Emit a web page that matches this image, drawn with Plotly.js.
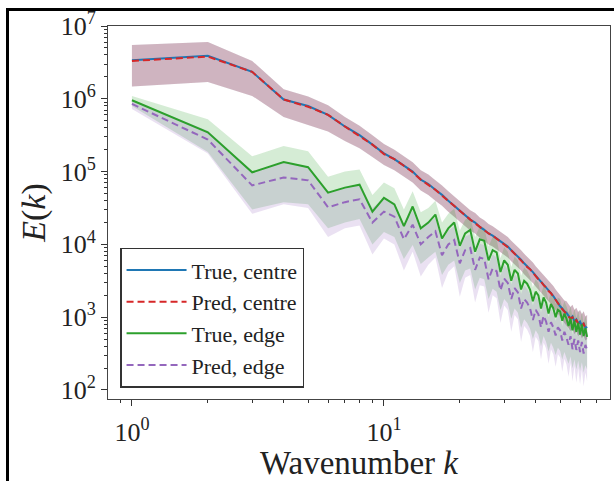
<!DOCTYPE html>
<html>
<head>
<meta charset="utf-8">
<script src="https://cdn.plot.ly/plotly-3.0.1.min.js"></script>
<style>
  html, body { margin: 0; padding: 0; background: #fff; }
  #wrap { position: relative; width: 614px; height: 481px; overflow: hidden; }
  #frame { position: absolute; left: 6px; top: 8px; width: 700px; height: 600px;
           border-left: 3px solid #000; border-top: 3px solid #000; pointer-events: none; }
</style>
</head>
<body>
<div id="wrap"><div id="chart" style="width:614px;height:481px;"></div><div id="frame"></div></div>
<script>
// Wavenumber k
const k = [1,2,3,4,5,6,7,8,9,10,11,12,13,14,15,16,17,18,19,20,21,22,23,24,25,26,27,28,29,30,31,32,
           33,34,35,36,37,38,39,40,41,42,43,44,45,46,47,48,49,50,51,52,53,54,55,56,57,58,59,60,61,62,63,64];

// All spectra stored as log10(E(k))
const trueCentreLog = [6.53,6.59,6.37,5.99,5.90,5.78,5.62,5.50,5.37,5.25,5.17,5.08,5.00,4.89,4.83,4.75,
  4.68,4.60,4.53,4.46,4.41,4.34,4.30,4.24,4.20,4.15,4.12,4.08,4.05,4.00,3.97,3.92,3.88,3.83,3.79,3.74,
  3.70,3.66,3.62,3.57,3.53,3.49,3.45,3.41,3.37,3.33,3.29,3.24,3.20,3.15,3.12,3.08,3.06,3.02,2.98,3.01,
  2.94,2.97,2.91,2.94,2.88,2.92,2.85,2.87];
const predCentreLog = [6.52,6.58,6.37,5.99,5.89,5.78,5.62,5.49,5.37,5.24,5.17,5.08,4.99,4.89,4.82,4.75,
  4.67,4.60,4.53,4.46,4.40,4.34,4.29,4.24,4.19,4.15,4.12,4.08,4.04,4.00,3.96,3.92,3.87,3.83,3.78,3.74,
  3.69,3.66,3.61,3.57,3.52,3.49,3.44,3.41,3.36,3.33,3.28,3.24,3.19,3.15,3.11,3.08,3.05,3.02,2.98,3.00,
  2.94,2.96,2.91,2.93,2.88,2.91,2.85,2.86];
const centreHiLog = [6.74,6.78,6.52,6.13,6.03,5.91,5.75,5.63,5.50,5.38,5.30,5.21,5.13,5.02,4.96,4.88,
  4.81,4.73,4.66,4.59,4.54,4.47,4.43,4.37,4.33,4.28,4.25,4.21,4.18,4.13,4.10,4.05,4.01,3.96,3.92,3.87,
  3.83,3.79,3.75,3.70,3.66,3.62,3.58,3.54,3.50,3.46,3.43,3.38,3.34,3.30,3.27,3.23,3.22,3.17,3.14,3.17,
  3.10,3.13,3.07,3.10,3.04,3.08,3.01,3.03];
const centreLoLog = [6.17,6.23,6.04,5.75,5.64,5.55,5.42,5.32,5.20,5.09,5.02,4.93,4.85,4.74,4.68,4.60,
  4.53,4.45,4.38,4.31,4.26,4.19,4.15,4.09,4.05,4.00,3.97,3.93,3.90,3.85,3.82,3.77,3.73,3.68,3.64,3.59,
  3.55,3.51,3.47,3.42,3.38,3.34,3.30,3.26,3.22,3.18,3.14,3.09,3.05,3.00,2.96,2.92,2.89,2.85,2.81,2.84,
  2.77,2.80,2.74,2.77,2.71,2.75,2.68,2.70];

const trueEdgeLog = [5.98,5.54,4.99,5.13,5.06,4.71,4.78,4.82,4.45,4.64,4.55,4.25,4.52,4.22,4.30,4.41,
  4.08,4.22,4.30,3.98,4.15,4.20,3.90,4.07,4.05,3.78,3.92,3.89,3.62,3.78,3.72,3.50,3.65,3.60,3.38,3.50,
  3.46,3.38,3.22,3.35,3.30,3.12,3.27,3.20,3.05,3.18,3.12,3.00,3.10,3.08,2.95,3.05,2.98,2.88,2.98,2.82,
  2.95,2.80,2.92,2.76,2.90,2.74,2.85,2.73];
const trueEdgeHiLog = [6.04,5.72,5.21,5.35,5.28,4.93,5.00,5.03,4.68,4.85,4.77,4.48,4.73,4.44,4.50,4.60,
  4.30,4.42,4.49,4.19,4.34,4.38,4.10,4.25,4.23,3.97,4.10,4.07,3.81,3.96,3.90,3.69,3.83,3.78,3.57,3.68,
  3.64,3.56,3.41,3.52,3.47,3.30,3.44,3.37,3.23,3.35,3.29,3.18,3.27,3.25,3.13,3.22,3.15,3.06,3.15,3.00,
  3.12,2.98,3.09,2.94,3.07,2.92,3.02,2.91];
const trueEdgeLoLog = [5.90,5.27,4.48,4.58,4.55,4.22,4.30,4.35,4.00,4.17,4.10,3.80,3.99,3.73,3.82,3.90,
  3.58,3.72,3.78,3.47,3.64,3.67,3.38,3.54,3.52,3.25,3.39,3.35,3.10,3.25,3.19,2.98,3.12,3.06,2.85,2.97,
  2.92,2.84,2.70,2.82,2.76,2.60,2.74,2.66,2.53,2.65,2.58,2.48,2.58,2.54,2.42,2.52,2.44,2.36,2.46,2.30,
  2.42,2.28,2.40,2.26,2.38,2.24,2.34,2.28];

const predEdgeLog = [5.93,5.44,4.81,4.92,4.88,4.51,4.58,4.62,4.30,4.45,4.38,4.07,4.27,4.00,4.10,4.18,
  3.85,4.00,4.06,3.74,3.92,3.95,3.65,3.82,3.80,3.52,3.67,3.63,3.37,3.53,3.47,3.25,3.40,3.34,3.12,3.25,
  3.20,3.12,2.96,3.10,3.04,2.86,3.02,2.94,2.80,2.93,2.86,2.75,2.86,2.82,2.68,2.80,2.72,2.62,2.74,2.56,
  2.70,2.55,2.68,2.52,2.66,2.50,2.62,2.55];
const predEdgeHiLog = [5.98,5.56,5.00,5.12,5.07,4.71,4.78,4.81,4.50,4.64,4.57,4.27,4.46,4.20,4.29,4.37,
  4.05,4.19,4.25,3.94,4.11,4.14,3.85,4.01,3.99,3.72,3.86,3.82,3.57,3.72,3.66,3.45,3.59,3.53,3.32,3.44,
  3.39,3.31,3.16,3.29,3.23,3.06,3.21,3.13,3.00,3.12,3.05,2.95,3.05,3.01,2.88,2.99,2.91,2.82,2.93,2.76,
  2.89,2.75,2.87,2.72,2.85,2.70,2.81,2.74];
const predEdgeLoLog = [5.86,5.25,4.42,4.55,4.50,4.10,4.22,4.26,3.86,4.08,4.00,3.64,3.90,3.56,3.72,3.82,
  3.40,3.62,3.70,3.28,3.54,3.58,3.20,3.44,3.42,3.06,3.30,3.26,2.92,3.16,3.10,2.80,3.03,2.97,2.66,2.88,
  2.83,2.74,2.52,2.73,2.67,2.42,2.65,2.57,2.36,2.56,2.49,2.32,2.49,2.45,2.25,2.43,2.35,2.18,2.37,2.12,
  2.33,2.10,2.30,2.08,2.28,2.05,2.24,2.12];

const seriesNames = ['True, centre', 'Pred, centre', 'True, edge', 'Pred, edge'];
const xTickVals = [1, 10];
const xTickText = ['10<sup>0</sup>', '10<sup>1</sup>'];
const yTickVals = [1e2, 1e3, 1e4, 1e5, 1e6, 1e7];
const yTickText = ['10<sup>2</sup>', '10<sup>3</sup>', '10<sup>4</sup>', '10<sup>5</sup>', '10<sup>6</sup>', '10<sup>7</sup>'];

const toE = a => a.map(v => Math.pow(10, v));
const serif = '"Liberation Serif", "DejaVu Serif", serif';

function band(lo, hi, color) {
  return [
    {x: k, y: toE(lo), type: 'scatter', mode: 'lines', line: {width: 0, color: color},
     showlegend: false, hoverinfo: 'skip'},
    {x: k, y: toE(hi), type: 'scatter', mode: 'lines', line: {width: 0, color: color},
     fill: 'tonexty', fillcolor: color, showlegend: false, hoverinfo: 'skip'}
  ];
}
function line(y, name, color, dash) {
  return {x: k, y: toE(y), type: 'scatter', mode: 'lines', name: name,
          line: {color: color, width: 2, dash: dash}};
}

const data = [].concat(
  band(centreLoLog, centreHiLog, 'rgba(31,119,180,0.22)'),
  band(centreLoLog, centreHiLog, 'rgba(214,39,40,0.24)'),
  band(trueEdgeLoLog, trueEdgeHiLog, 'rgba(44,160,44,0.20)'),
  band(predEdgeLoLog, predEdgeHiLog, 'rgba(148,103,189,0.20)'),
  [line(trueCentreLog, seriesNames[0], '#1f77b4', 'solid'),
   line(predCentreLog, seriesNames[1], '#d62728', '7px,4px'),
   line(trueEdgeLog, seriesNames[2], '#2ca02c', 'solid'),
   line(predEdgeLog, seriesNames[3], '#9467bd', '7px,4px')]
);

const layout = {
  width: 614, height: 481,
  margin: {l: 108, r: 4, t: 26, b: 82},
  paper_bgcolor: '#fff', plot_bgcolor: '#fff',
  font: {family: serif, color: '#222', size: 26},
  showlegend: true,
  legend: {x: 0.024, y: 0.03, xanchor: 'left', yanchor: 'bottom', traceorder: 'normal',
           itemwidth: 60,
           bgcolor: '#fff', bordercolor: '#333', borderwidth: 1.5,
           font: {family: serif, size: 22, color: '#222'}},
  xaxis: {type: 'log', range: [-0.095, 1.897], tickvals: xTickVals, ticktext: xTickText,
          ticks: 'outside', ticklen: 6, tickwidth: 1, tickcolor: '#333', ticklabelstandoff: 4,
          showline: true, linecolor: '#444', linewidth: 1, mirror: true,
          showgrid: false, zeroline: false,
          tickfont: {family: serif, size: 26, color: '#222'},
          minor: {ticks: 'outside', ticklen: 3, tickwidth: 1, tickcolor: '#333',
                  tickvals: [0.9,2,3,4,5,6,7,8,9,20,30,40,50,60,70], showgrid: false},
          title: {text: 'Wavenumber <i>k</i>', font: {family: serif, size: 33, color: '#222'}, standoff: 4}},
  yaxis: {type: 'log', range: [1.876, 7.0], tickvals: yTickVals, ticktext: yTickText,
          ticks: 'outside', ticklen: 6, tickwidth: 1, tickcolor: '#333',
          showline: true, linecolor: '#444', linewidth: 1, mirror: true,
          showgrid: false, zeroline: false,
          tickfont: {family: serif, size: 26, color: '#222'},
          minor: {ticks: 'outside', ticklen: 3, tickwidth: 1, tickcolor: '#333', showgrid: false,
                  tickvals: [2e2,3e2,4e2,5e2,6e2,7e2,8e2,9e2,2e3,3e3,4e3,5e3,6e3,7e3,8e3,9e3,
                             2e4,3e4,4e4,5e4,6e4,7e4,8e4,9e4,2e5,3e5,4e5,5e5,6e5,7e5,8e5,9e5,
                             2e6,3e6,4e6,5e6,6e6,7e6,8e6,9e6]},
          title: {text: '<i>E</i>(<i>k</i>)', font: {family: serif, size: 34, color: '#222'}, standoff: 4}}
};

Plotly.newPlot('chart', data, layout, {displayModeBar: false, staticPlot: true});
</script>
</body>
</html>
